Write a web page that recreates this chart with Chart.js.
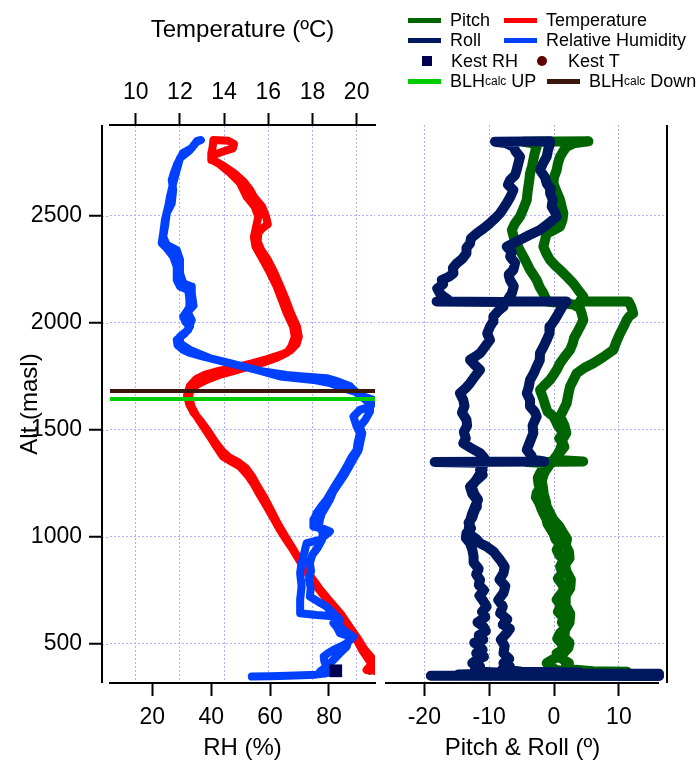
<!DOCTYPE html>
<html>
<head>
<meta charset="utf-8">
<title>Perfil vertical</title>
<script src="https://cdn.jsdelivr.net/npm/chart.js@4.4.1/dist/chart.umd.min.js"></script>
<style>
  html, body { margin: 0; padding: 0; background: #fff; }
  #wrap { position: relative; width: 699px; height: 770px; overflow: hidden; font-family: "Liberation Sans", Arial, sans-serif; }
  #profileChart { position: absolute; left: 0; top: 0; }
  #attitudeChart { position: absolute; left: 378px; top: 0; }
  .lg { position: absolute; height: 20px; margin-top: -10px; display: flex; align-items: center; font-size: 18px; line-height: 20px; color: #000; white-space: nowrap; }
  .lg .sw { display: inline-block; width: 33px; height: 5px; margin-right: 9px; }
  .lg .sq { display: inline-block; width: 10px; height: 10px; margin-right: 19px; }
  .lg .dot { display: inline-block; width: 10px; height: 10px; border-radius: 50%; margin-right: 21px; }
  .lg sub { font-size: 12px; vertical-align: -5px; line-height: 0; }
</style>
</head>
<body>
<div id="wrap">
  <canvas id="profileChart" width="380" height="770"></canvas>
  <canvas id="attitudeChart" width="321" height="770"></canvas>

  <div class="lg" style="left:408px;top:20px"><span class="sw" style="background:#006400"></span>Pitch</div>
  <div class="lg" style="left:504px;top:20px"><span class="sw" style="background:#ff0000"></span>Temperature</div>
  <div class="lg" style="left:408px;top:40px"><span class="sw" style="background:#001860"></span>Roll</div>
  <div class="lg" style="left:504px;top:40px"><span class="sw" style="background:#0040ff"></span>Relative Humidity</div>
  <div class="lg" style="left:422px;top:61px"><span class="sq" style="background:#000050"></span>Kest RH</div>
  <div class="lg" style="left:537px;top:61px"><span class="dot" style="background:#600000"></span>Kest T</div>
  <div class="lg" style="left:408px;top:81px"><span class="sw" style="background:#00cc00"></span>BLH<sub>calc</sub>&nbsp;UP</div>
  <div class="lg" style="left:547px;top:81px"><span class="sw" style="background:#3b170b"></span>BLH<sub>calc</sub>&nbsp;Down</div>
</div>

<script>
(function () {
    'use strict';

    // ---- axis ranges and ticks ----
    var ALT_MIN = 317, ALT_MAX = 2924;
    var RH_MIN = 5.64, RH_MAX = 95.62;
    var T_MIN = 8.837, T_MAX = 20.83;
    var ANG_MIN = -27.14, ANG_MAX = 17.42;

    var ALT_TICKS = [500, 1000, 1500, 2000, 2500];
    var RH_TICKS = [20, 40, 60, 80];
    var TEMP_TICKS = [10, 12, 14, 16, 18, 20];
    var ANGLE_TICKS = [-20, -10, 0, 10];

    // ---- profiles: [altitude m, value] ; ascent then descent ----
    var tempUp = [
        [372, 20.85], [380, 20.6], [395, 20.75], [425, 20.55], [470, 20.25], [519, 20.0], [565, 19.68],
        [612, 19.38], [650, 19.12], [691, 18.79], [730, 18.48], [768, 18.19], [815, 17.88], [861, 17.57],
        [900, 17.35], [939, 17.12], [985, 16.82], [1032, 16.53], [1085, 16.24], [1141, 15.93], [1195, 15.62],
        [1252, 15.31], [1290, 15.05], [1328, 14.72], [1352, 14.32], [1375, 13.95], [1420, 13.66], [1468, 13.36],
        [1515, 13.06], [1562, 12.76], [1610, 12.52], [1655, 12.42], [1690, 12.48], [1712, 12.8], [1733, 13.2],
        [1755, 13.75], [1775, 14.45], [1795, 15.1], [1815, 15.8], [1835, 16.35], [1860, 16.85], [1890, 17.05],
        [1935, 17.2], [1982, 17.12], [2046, 16.83], [2107, 16.61], [2169, 16.38], [2233, 16.08], [2294, 15.76],
        [2356, 15.42], [2400, 15.35], [2449, 15.45], [2496, 15.55], [2543, 15.38], [2589, 15.02], [2653, 14.72],
        [2700, 14.27], [2740, 13.8], [2761, 13.44], [2790, 13.42], [2820, 13.48], [2854, 13.52], [2850, 14.2],
        [2835, 14.45], [2815, 14.4], [2800, 13.95]
    ];
    var tempDown = [
        [2785, 13.55], [2760, 13.5], [2735, 13.95], [2700, 14.45], [2660, 14.88], [2620, 15.18], [2589, 15.35],
        [2543, 15.72], [2496, 15.9], [2460, 15.98], [2440, 15.72], [2420, 15.55], [2380, 15.52], [2340, 15.68],
        [2294, 15.98], [2233, 16.28], [2169, 16.55], [2107, 16.8], [2046, 17.02], [1982, 17.3], [1935, 17.38],
        [1900, 17.28], [1870, 17.0], [1850, 16.55], [1830, 15.95], [1810, 15.25], [1792, 14.5], [1775, 13.75],
        [1758, 13.15], [1738, 12.75], [1705, 12.45], [1660, 12.32], [1620, 12.42], [1580, 12.62], [1540, 12.95],
        [1490, 13.3], [1440, 13.62], [1400, 13.92], [1372, 14.22], [1348, 14.65], [1322, 14.98], [1280, 15.28],
        [1230, 15.55], [1180, 15.84], [1120, 16.14], [1060, 16.44], [1000, 16.78], [940, 17.14], [880, 17.48],
        [820, 17.88], [760, 18.3], [700, 18.78], [640, 19.28], [580, 19.68], [520, 20.08], [470, 20.38],
        [430, 20.72], [405, 20.82], [390, 20.55], [378, 20.45]
    ];

    var rhUp = [
        [347, 53.8], [349, 60], [351, 66], [353, 71], [356, 75.5], [361, 78.5], [368, 80.6], [380, 79.8],
        [394, 79.2], [418, 78.4], [441, 78.2], [458, 79.8], [472, 81.5], [488, 84.0], [503, 86.0], [518, 87.3],
        [534, 88.3], [550, 86.4], [565, 84.9], [590, 83.2], [615, 82.8], [643, 81.5], [660, 80.2], [674, 79.2],
        [698, 76.2], [721, 73.5], [760, 73.8], [800, 73.2], [840, 73.9], [877, 73.5], [915, 74.3], [950, 76.2],
        [985, 77.6], [1020, 77.9], [1048, 76.6], [1080, 76.9], [1111, 77.6], [1140, 78.9], [1173, 80.3],
        [1210, 81.4], [1251, 83.4], [1290, 85.3], [1328, 86.9], [1370, 88.6], [1406, 90.1], [1440, 90.6],
        [1484, 91.3], [1515, 90.5], [1546, 92.3], [1585, 93.9], [1624, 94.0], [1650, 91.5], [1671, 90.3],
        [1694, 84.9], [1718, 80.3], [1733, 74.7], [1749, 63.4], [1780, 55.5], [1811, 46.4], [1842, 37.3],
        [1860, 32.5], [1873, 30.5], [1895, 28.6], [1920, 28.3], [1951, 31.1], [1982, 32.8], [2005, 31.2],
        [2029, 30.5], [2055, 31.8], [2076, 32.8], [2110, 32.6], [2153, 32.2], [2169, 29.4], [2200, 28.3],
        [2262, 28.3], [2309, 27.1], [2348, 24.9], [2372, 23.2], [2418, 23.7], [2481, 24.3], [2543, 25.4],
        [2589, 26.0], [2652, 27.1], [2714, 28.3], [2769, 29.4], [2807, 32.8], [2846, 35.1], [2854, 36.5]
    ];
    var rhDown = [
        [2850, 35.2], [2815, 33.3], [2793, 30.4], [2740, 28.4], [2695, 27.2], [2667, 26.6], [2621, 27.1],
        [2558, 26.6], [2512, 24.9], [2449, 24.3], [2402, 23.7], [2364, 24.9], [2340, 28.3], [2294, 29.4],
        [2232, 29.4], [2185, 30.5], [2169, 33.4], [2138, 33.4], [2080, 34.0], [2050, 32.0], [2013, 33.4],
        [1967, 32.2], [1935, 29.4], [1904, 29.4], [1873, 32.8], [1834, 39.6], [1803, 48.7], [1772, 57.7],
        [1756, 65.6], [1749, 71.3], [1741, 79.2], [1725, 83.2], [1705, 87.0], [1687, 88.3], [1663, 90.2],
        [1640, 95.0], [1624, 94.8], [1608, 93.9], [1593, 90.5], [1562, 88.3], [1515, 89.4], [1484, 90.5],
        [1440, 89.7], [1406, 89.4], [1370, 87.6], [1328, 86.0], [1290, 84.4], [1251, 82.6], [1210, 80.8],
        [1173, 79.2], [1140, 77.3], [1111, 75.8], [1080, 74.9], [1048, 74.7], [1036, 78.5], [1025, 80.3],
        [1005, 78.6], [986, 76.9], [970, 72.4], [908, 71.3], [870, 70.6], [830, 70.2], [768, 70.7],
        [706, 70.2], [643, 70.2], [635, 75.8], [628, 82.6], [612, 83.7], [597, 81.5], [575, 82.8],
        [550, 83.7], [534, 87.1], [510, 86.5], [487, 86.0], [456, 83.7], [425, 81.5], [394, 79.2], [371, 77.0]
    ];

    var pitchUp = [
        [366, 11.3], [368, -2.5], [371, 1.5], [380, 0.2], [394, -0.5], [410, -1.13], [425, -0.3], [440, 0.6],
        [456, 0.41], [475, 1.5], [500, 1.2], [525, 0.5], [550, 0.93], [575, 1.8], [600, 1.2], [620, 1.5],
        [650, 0.6], [680, 1.1], [706, 0.41], [730, 1.0], [755, 1.6], [780, 1.2], [805, 0.6], [830, 1.3],
        [861, 0.93], [890, 1.5], [915, 0.8], [939, 0.41], [965, 0.9], [990, 0.2], [1017, -0.1], [1040, -0.6],
        [1060, -1.0], [1085, -1.2], [1110, -1.64], [1135, -2.0], [1160, -2.3], [1185, -2.8], [1204, -2.67],
        [1225, -2.2], [1250, -2.4], [1275, -2.5], [1297, -2.16], [1315, -1.8], [1330, -1.5], [1344, -0.8],
        [1350, -4.2], [1352, 4.5], [1360, -0.1], [1383, 0.5], [1406, 0.93], [1440, 1.3], [1460, 0.8],
        [1484, 1.44], [1520, 0.6], [1545, 0.2], [1562, -0.1], [1585, -1.0], [1610, -1.3], [1640, -1.6],
        [1665, -1.9], [1686, -2.16], [1710, -1.4], [1733, -0.62], [1760, 0.0], [1785, 0.5], [1811, 0.93],
        [1840, 1.6], [1873, 2.47], [1905, 2.9], [1930, 3.1], [1951, 3.5], [1980, 4.0], [2013, 4.52],
        [2040, 4.3], [2068, 4.0], [2085, 3.0], [2099, -1.1], [2107, -1.13], [2122, -1.4], [2138, -1.64],
        [2165, -2.2], [2200, -2.67], [2225, -3.2], [2247, -3.7], [2278, -4.2], [2309, -4.73], [2340, -5.3],
        [2371, -5.76], [2400, -6.2], [2434, -6.5], [2465, -6.0], [2496, -5.24], [2535, -4.7], [2574, -4.2],
        [2605, -4.1], [2636, -3.96], [2668, -3.8], [2698, -3.7], [2730, -3.4], [2761, -3.19], [2790, -3.0],
        [2823, -2.67], [2840, -3.5], [2846, -4.7]
    ];
    var pitchDown = [
        [2848, 5.3], [2838, 3.0], [2823, 1.95], [2800, 1.4], [2776, 0.93], [2745, 0.6], [2714, 0.41],
        [2680, 0.0], [2651, -0.1], [2612, 0.4], [2574, 0.93], [2540, 1.2], [2511, 1.44], [2480, 1.3],
        [2449, 0.93], [2430, -0.2], [2418, -1.13], [2385, -1.4], [2356, -1.64], [2325, -1.2], [2294, -0.62],
        [2270, 0.1], [2247, 0.93], [2215, 2.0], [2184, 2.98], [2150, 3.8], [2122, 4.52], [2101, 4.0],
        [2099, 11.5], [2075, 11.9], [2044, 12.2], [2030, 11.6], [2013, 11.2], [1980, 10.7], [1951, 10.2],
        [1910, 9.6], [1873, 9.15], [1840, 7.6], [1811, 6.07], [1790, 4.7], [1764, 3.5], [1733, 3.0],
        [1702, 2.47], [1665, 2.2], [1624, 1.95], [1590, 1.4], [1562, 0.93], [1520, 1.6], [1484, 1.9],
        [1450, 1.2], [1420, 1.6], [1390, 0.8], [1360, 0.4], [1340, -0.6], [1300, -1.5], [1260, -1.9],
        [1230, -1.7], [1200, -1.6], [1170, -1.3], [1142, -1.13], [1110, -0.6], [1080, -0.1], [1050, 0.8],
        [1017, 1.44], [990, 2.0], [960, 1.8], [930, 2.3], [900, 2.4], [870, 1.7], [840, 1.9], [800, 2.6],
        [760, 2.5], [720, 1.7], [680, 1.8], [640, 2.5], [600, 2.4], [565, 1.7], [530, 1.6], [505, 2.4],
        [480, 2.2], [455, 1.4], [430, 1.2], [410, 2.3], [394, 1.8], [380, 2.8], [372, 6.0], [369, 11.3]
    ];

    var rollUp = [
        [350, 16.2], [351, -19.0], [354, -4], [357, -14.8], [362, -6.5], [368, -10.5], [380, -12.2],
        [394, -11.4], [410, -12.6], [425, -11.9], [440, -10.8], [456, -12.0], [472, -11.0], [487, -11.4],
        [505, -12.3], [520, -10.9], [540, -11.6], [560, -10.5], [581, -10.9], [600, -11.8], [625, -10.6],
        [650, -11.1], [674, -10.4], [700, -10.9], [725, -11.5], [750, -10.8], [775, -11.6], [799, -11.4],
        [825, -12.0], [850, -11.6], [880, -12.4], [908, -12.4], [940, -12.6], [970, -12.95], [995, -13.6],
        [1017, -13.5], [1040, -12.8], [1065, -13.2], [1090, -12.6], [1110, -12.4], [1140, -12.0],
        [1173, -11.9], [1200, -12.6], [1234, -12.95], [1266, -11.9], [1290, -11.0], [1313, -11.4],
        [1335, -10.9], [1352, -10.4], [1370, -10.8], [1391, -11.4], [1415, -12.8], [1437, -14.0],
        [1460, -13.6], [1490, -13.9], [1520, -13.4], [1547, -13.5], [1580, -14.2], [1610, -13.8],
        [1640, -14.0], [1671, -14.5], [1695, -13.6], [1718, -12.95], [1750, -12.2], [1780, -11.4],
        [1805, -12.3], [1827, -12.95], [1845, -12.0], [1858, -11.4], [1890, -10.6], [1920, -9.87],
        [1950, -10.3], [1982, -9.87], [2005, -9.4], [2029, -9.35], [2055, -8.6], [2075, -7.8], [2097, -8.0],
        [2099, -18.1], [2107, -16.3], [2122, -17.0], [2138, -17.6], [2160, -18.0], [2180, -17.1],
        [2200, -17.3], [2215, -16.2], [2231, -15.5], [2255, -15.6], [2278, -15.0], [2300, -14.1],
        [2325, -13.5], [2350, -13.5], [2371, -12.95], [2395, -12.8], [2418, -11.9], [2440, -10.9],
        [2465, -9.87], [2490, -9.0], [2511, -8.33], [2535, -7.8], [2558, -7.3], [2590, -6.7], [2620, -6.27],
        [2645, -7.1], [2667, -6.78], [2690, -6.0], [2714, -5.76], [2745, -5.5], [2776, -5.24], [2800, -5.9],
        [2823, -6.27], [2840, -7.5], [2846, -9.1]
    ];
    var rollDown = [
        [2848, -0.6], [2838, -0.6], [2810, -0.9], [2776, -1.13], [2745, -1.7], [2714, -2.16], [2680, -1.4],
        [2651, -1.13], [2625, -0.5], [2605, -0.6], [2575, -0.2], [2543, -0.36], [2520, 0.1], [2496, 0.4],
        [2465, -0.8], [2434, -2.16], [2410, -3.8], [2387, -5.24], [2370, -6.4], [2356, -7.3], [2330, -6.5],
        [2309, -6.78], [2280, -6.0], [2247, -6.27], [2225, -7.0], [2200, -6.78], [2170, -6.2], [2138, -6.5],
        [2115, -7.0], [2101, -7.3], [2099, 1.95], [2083, 1.44], [2055, 0.9], [2029, 0.41], [2005, -0.1],
        [1982, -0.62], [1950, -0.7], [1920, -1.13], [1890, -1.6], [1858, -2.16], [1825, -2.2], [1796, -2.67],
        [1765, -3.1], [1733, -3.7], [1700, -3.9], [1671, -4.2], [1640, -3.7], [1609, -3.7], [1585, -3.0],
        [1562, -2.67], [1520, -3.3], [1484, -3.19], [1445, -3.7], [1406, -4.2], [1380, -3.5], [1360, -3.19],
        [1352, -1.5], [1350, -18.4], [1346, -11.6], [1313, -11.0], [1290, -11.5], [1266, -12.0],
        [1234, -12.7], [1200, -12.3], [1173, -11.7], [1140, -12.2], [1110, -12.6], [1080, -12.9],
        [1050, -13.1], [1017, -13.2], [990, -12.0], [970, -11.4], [955, -10.4], [930, -9.3], [910, -8.8],
        [892, -8.3], [860, -7.6], [830, -7.8], [800, -8.4], [770, -7.5], [737, -7.8], [705, -8.6],
        [675, -7.9], [643, -8.3], [615, -7.2], [590, -7.9], [570, -6.8], [550, -7.3], [520, -8.2],
        [490, -7.6], [456, -7.8], [430, -6.9], [410, -7.8], [394, -6.8], [380, -8.0], [370, -5.0],
        [366, 4.0], [363, -12], [360, 16.2], [358, 3.0], [355, -11.0]
    ];

    // surface station readings and boundary-layer heights
    var kestAlt = [374];
    var kestRH = [82.3];
    var kestT = [20.6];
    var blhUp = 1644;
    var blhDown = 1681;

    var C = {
        pitch: '#006400', roll: '#001860', temp: '#ff0000', rh: '#0040ff',
        kestRH: '#000050', kestT: '#600000', blhUp: '#00cc00', blhDown: '#3b170b',
        grid: '#b0b0ff'
    };

    Chart.defaults.font.family = "'Liberation Sans', Arial, sans-serif";
    Chart.defaults.color = '#000';

    var tickFont = { size: 23 };
    var titleFont = { size: 24 };

    function toXY(rows) {
        return rows.map(function (r) { return { x: r[1], y: r[0] }; });
    }
    function fixedTicks(list) {
        return function (scale) {
            scale.ticks = list.map(function (v) { return { value: v }; });
        };
    }
    function plainLabel(v) {
        return String(v);
    }
    // fixed axis band; label overhang must not shrink the plot
    function fitHeight(h) {
        return function (s) {
            s.height = h;
            s.paddingLeft = 0;
            s.paddingRight = 0;
        };
    }
    function profileLine(rows, color, width, xAxis) {
        return {
            data: toXY(rows),
            xAxisID: xAxis,
            showLine: true,
            borderColor: color,
            borderWidth: width,
            borderCapStyle: 'round',
            borderJoinStyle: 'round',
            pointRadius: 0,
            pointHoverRadius: 0,
            tension: 0
        };
    }

    // Igor-style frame: offset left axis with outward ticks, right bar, short bottom axis
    var axisFrame = {
        id: 'axisFrame',
        afterDraw: function (chart, args, opts) {
            var ctx = chart.ctx, a = chart.chartArea;
            ctx.save();
            if (opts.side === 'left') {
                var x = a.left - 8;
                var ys = chart.scales.y;
                // grid runs on to the offset axis
                ctx.strokeStyle = C.grid;
                ctx.lineWidth = 1;
                ctx.setLineDash([2, 2]);
                ctx.beginPath();
                ys.ticks.forEach(function (t) {
                    var py = Math.round(ys.getPixelForValue(t.value)) + 0.5;
                    ctx.moveTo(x, py);
                    ctx.lineTo(a.left, py);
                });
                ctx.stroke();
                ctx.setLineDash([]);
                ctx.strokeStyle = '#000';
                ctx.lineWidth = 2;
                ctx.beginPath();
                ctx.moveTo(x, a.top);
                ctx.lineTo(x, a.bottom);
                ys.ticks.forEach(function (t) {
                    var py = ys.getPixelForValue(t.value);
                    ctx.moveTo(x - 13, py);
                    ctx.lineTo(x, py);
                });
                ctx.stroke();
            } else {
                ctx.strokeStyle = '#000';
                ctx.lineWidth = 2;
                ctx.beginPath();
                ctx.moveTo(a.right, a.top);
                ctx.lineTo(a.right, a.bottom);
                ctx.moveTo(a.left + 7, a.bottom);
                ctx.lineTo(a.right - 8, a.bottom);
                ctx.stroke();
            }
            ctx.restore();
        }
    };

    var altScale = {
        type: 'linear',
        min: ALT_MIN,
        max: ALT_MAX,
        afterBuildTicks: fixedTicks(ALT_TICKS)
    };

    // ---- left panel: temperature & RH ----
    new Chart(document.getElementById('profileChart'), {
        type: 'scatter',
        data: {
            datasets: [
                profileLine([[blhDown, RH_MIN], [blhDown, RH_MAX]], C.blhDown, 4, 'x'),
                profileLine([[blhUp, RH_MIN], [blhUp, RH_MAX]], C.blhUp, 4, 'x'),
                {
                    data: kestAlt.map(function (a, i) { return { x: kestRH[i], y: a }; }),
                    xAxisID: 'x',
                    pointStyle: 'rect',
                    pointRadius: 9,
                    pointBackgroundColor: C.kestRH,
                    pointBorderWidth: 0
                },
                profileLine(rhUp.concat(rhDown), C.rh, 8, 'x'),
                profileLine(tempUp.concat(tempDown), C.temp, 8, 'xT'),
                {
                    data: kestAlt.map(function (a, i) { return { x: kestT[i], y: a }; }),
                    xAxisID: 'xT',
                    pointStyle: 'circle',
                    pointRadius: 4,
                    pointBackgroundColor: C.kestT,
                    pointBorderWidth: 0
                }
            ]
        },
        options: {
            responsive: false,
            animation: false,
            devicePixelRatio: 1,
            events: [],
            layout: { autoPadding: false, padding: { left: 0, right: 5, top: 0, bottom: 0 } },
            plugins: { legend: { display: false }, tooltip: { enabled: false }, axisFrame: { side: 'left' } },
            scales: {
                x: {
                    type: 'linear',
                    position: 'bottom',
                    min: RH_MIN,
                    max: RH_MAX,
                    afterBuildTicks: fixedTicks(RH_TICKS),
                    afterFit: fitHeight(87),
                    grid: { drawOnChartArea: false, tickLength: 13, tickColor: '#000', tickWidth: 2 },
                    border: { display: true, color: '#000', width: 2 },
                    ticks: { font: tickFont, color: '#000', padding: 8, maxRotation: 0, callback: plainLabel },
                    title: { display: true, text: 'RH (%)', font: titleFont, color: '#000', padding: { top: 0, bottom: 7 } }
                },
                xT: {
                    type: 'linear',
                    axis: 'x',
                    position: 'top',
                    min: T_MIN,
                    max: T_MAX,
                    afterBuildTicks: fixedTicks(TEMP_TICKS),
                    afterFit: fitHeight(125),
                    grid: { color: C.grid, lineWidth: 1, tickLength: 12, tickColor: '#000', tickWidth: 2 },
                    border: { display: true, color: '#000', width: 2, dash: [2, 2] },
                    ticks: { font: tickFont, color: '#000', padding: 7, maxRotation: 0, callback: plainLabel },
                    title: { display: true, text: 'Temperature (ºC)', font: titleFont, color: '#000', padding: { top: 16, bottom: 0 } }
                },
                y: Object.assign({}, altScale, {
                    position: 'left',
                    afterFit: function (s) { s.width = 110; },
                    grid: { color: C.grid, lineWidth: 1, drawTicks: false },
                    border: { display: false, dash: [2, 2] },
                    ticks: { font: tickFont, color: '#000', padding: 28, callback: plainLabel },
                    title: { display: true, text: 'Alt (masl)', font: titleFont, color: '#000', padding: { top: 16, bottom: 0 } }
                })
            }
        },
        plugins: [axisFrame]
    });

    // ---- right panel: pitch & roll ----
    new Chart(document.getElementById('attitudeChart'), {
        type: 'scatter',
        data: {
            datasets: [
                profileLine(rollUp.concat(rollDown), C.roll, 10, 'x'),
                profileLine(pitchUp.concat(pitchDown), C.pitch, 10, 'x')
            ]
        },
        options: {
            responsive: false,
            animation: false,
            devicePixelRatio: 1,
            events: [],
            layout: { autoPadding: false, padding: { left: 0, right: 32, top: 125, bottom: 0 } },
            plugins: { legend: { display: false }, tooltip: { enabled: false }, axisFrame: { side: 'right' } },
            scales: {
                x: {
                    type: 'linear',
                    position: 'bottom',
                    min: ANG_MIN,
                    max: ANG_MAX,
                    afterBuildTicks: fixedTicks(ANGLE_TICKS),
                    afterFit: fitHeight(87),
                    grid: { color: C.grid, lineWidth: 1, tickLength: 13, tickColor: '#000', tickWidth: 2 },
                    border: { display: false, dash: [2, 2] },
                    ticks: { font: tickFont, color: '#000', padding: 8, maxRotation: 0, callback: plainLabel },
                    title: { display: true, text: 'Pitch & Roll (º)', font: titleFont, color: '#000', padding: { top: 0, bottom: 7 } }
                },
                y: Object.assign({}, altScale, {
                    position: 'left',
                    afterFit: function (s) { s.width = 0; },
                    grid: { color: C.grid, lineWidth: 1, drawTicks: false },
                    border: { display: false, dash: [2, 2] },
                    ticks: { display: false }
                })
            }
        },
        plugins: [axisFrame]
    });
})();
</script>
</body>
</html>
